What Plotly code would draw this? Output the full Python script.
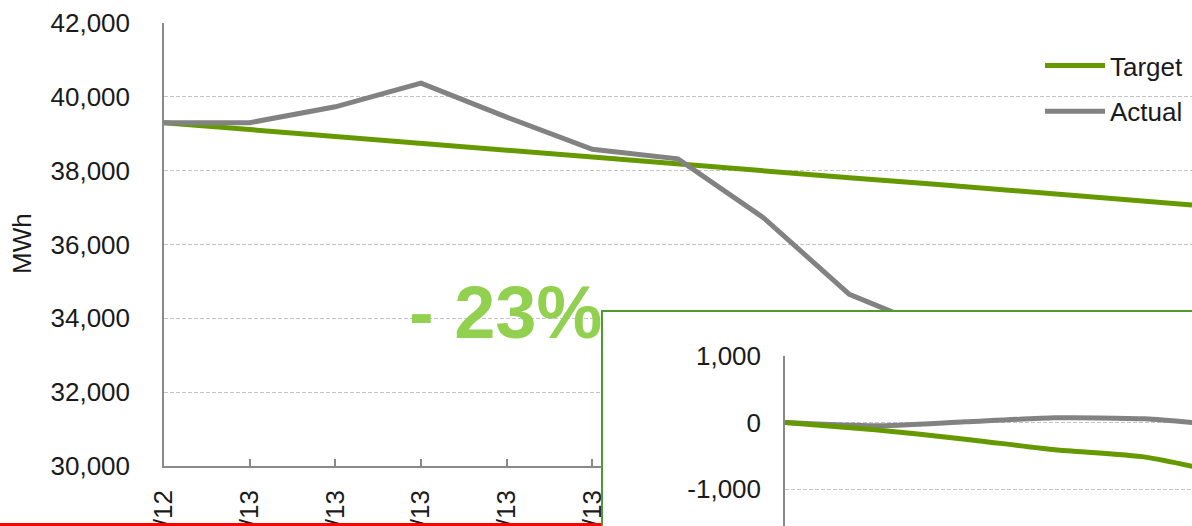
import plotly.graph_objects as go

# ---- data ----
months = ["12/12", "01/13", "02/13", "03/13", "04/13", "05/13", "06/13",
          "07/13", "08/13", "09/13", "10/13", "11/13", "12/13"]
target = [39300, 39110, 38920, 38740, 38550, 38370, 38180, 38000, 37810,
          37630, 37440, 37250, 37070]
actual = [39300, 39300, 39730, 40370, 39450, 38580, 38320, 36720, 34650,
          33700]

inset_months = months[:6]
inset_target = [0, -110, -250, -410, -520, -800]
inset_actual = [0, -50, 10, 70, 55, -60]

main_ticks = [30000, 32000, 34000, 36000, 38000, 40000, 42000]
inset_ticks = [-1000, 0, 1000]
inset_tick_text = ["-1,000", "0", "1,000"]

GREEN = "#669900"
GREY = "#828282"
FONT = "Liberation Sans, Arial, sans-serif"
W, H = 1192, 526

fig = go.Figure()

# main chart
fig.add_trace(go.Scatter(x=months, y=target, name="Target", mode="lines",
                         line=dict(color=GREEN, width=5), legendgroup="t",
                         xaxis="x", yaxis="y"))
fig.add_trace(go.Scatter(x=months[:len(actual)], y=actual, name="Actual",
                         mode="lines", line=dict(color=GREY, width=5),
                         legendgroup="a", xaxis="x", yaxis="y"))

# cover panel (white box behind inset)
fig.add_trace(go.Scatter(x=[], y=[], xaxis="x2", yaxis="y2", showlegend=False))

# inset chart
fig.add_trace(go.Scatter(x=inset_months, y=inset_actual, mode="lines",
                         line=dict(color=GREY, width=5, shape="spline", smoothing=0.6),
                         showlegend=False, xaxis="x3", yaxis="y3"))
fig.add_trace(go.Scatter(x=inset_months, y=inset_target, mode="lines",
                         line=dict(color=GREEN, width=5, shape="spline", smoothing=0.6),
                         showlegend=False, xaxis="x3", yaxis="y3"))

grid = dict(showgrid=True, gridcolor="#c4c4c4", gridwidth=1, griddash="4px,2px")

fig.update_layout(
    width=W, height=H,
    margin=dict(l=0, r=0, t=0, b=0),
    paper_bgcolor="white", plot_bgcolor="white",
    font=dict(family=FONT, size=26, color="#1a1a1a"),
    showlegend=True,
    legend=dict(x=1040 / W, y=1 - 42 / H, xanchor="left", yanchor="top",
                bgcolor="rgba(0,0,0,0)", font=dict(size=26, color="#1a1a1a"),
                traceorder="grouped", tracegroupgap=9, itemwidth=60),
    xaxis=dict(domain=[164 / W, 1], anchor="y", type="category",
               range=[0, 12], showline=True, linecolor="#898989", linewidth=1.5,
               ticks="inside", ticklen=7, tickcolor="#898989", tickwidth=1.5,
               tickangle=-90, tickfont=dict(size=26), ticklabelstandoff=12,
               showgrid=False, zeroline=False, automargin=False),
    yaxis=dict(domain=[(H - 466) / H, (H - 23) / H], anchor="x",
               range=[30000, 42000], tickvals=main_ticks, tickformat=",d",
               showline=True, linecolor="#898989", linewidth=1.5,
               ticks="", ticklabelstandoff=27, zeroline=False,
               automargin=False, **grid),
    xaxis2=dict(domain=[601 / W, 1], anchor="y2", visible=False, range=[0, 1]),
    yaxis2=dict(domain=[0, (H - 310) / H], anchor="x2", visible=False, range=[0, 1]),
    xaxis3=dict(domain=[785 / W, 1], anchor="y3", type="category",
                range=[0, 4.52], showline=False, showticklabels=False,
                showgrid=False, zeroline=False, ticks=""),
    yaxis3=dict(domain=[0, (H - 356) / H], anchor="x3",
                range=[-1556, 1000], tickvals=inset_ticks, ticktext=inset_tick_text,
                showline=True, linecolor="#898989", linewidth=1.5,
                ticks="", ticklabelstandoff=17, zeroline=False,
                automargin=False, **grid),
    annotations=[
        dict(text="MWh", textangle=-90, xref="paper", yref="paper",
             x=22 / W, y=1 - 244 / H,
             xanchor="center", yanchor="middle", showarrow=False,
             font=dict(size=26, color="#1a1a1a")),
        dict(text="- 23%", xref="paper", yref="paper",
             x=408 / W, y=1 - 312 / H, xanchor="left", yanchor="middle",
             showarrow=False, borderpad=0,
             font=dict(size=74, color="#92d050", weight="bold")),
    ],
    shapes=[
        dict(type="rect", xref="paper", yref="paper",
             x0=0, x1=601 / W, y0=0, y1=3 / H,
             fillcolor="#ff0000", line=dict(width=0), layer="above"),
        dict(type="rect", xref="paper", yref="paper",
             x0=602 / W, x1=1.01, y0=-0.02, y1=1 - 311 / H,
             fillcolor="rgba(0,0,0,0)", line=dict(color="#4e9a2e", width=2),
             layer="above"),
    ],
)

fig.write_html("out.html", config={"displayModeBar": False},
               post_script="document.body.style.margin='0';document.body.style.overflow='hidden';")
